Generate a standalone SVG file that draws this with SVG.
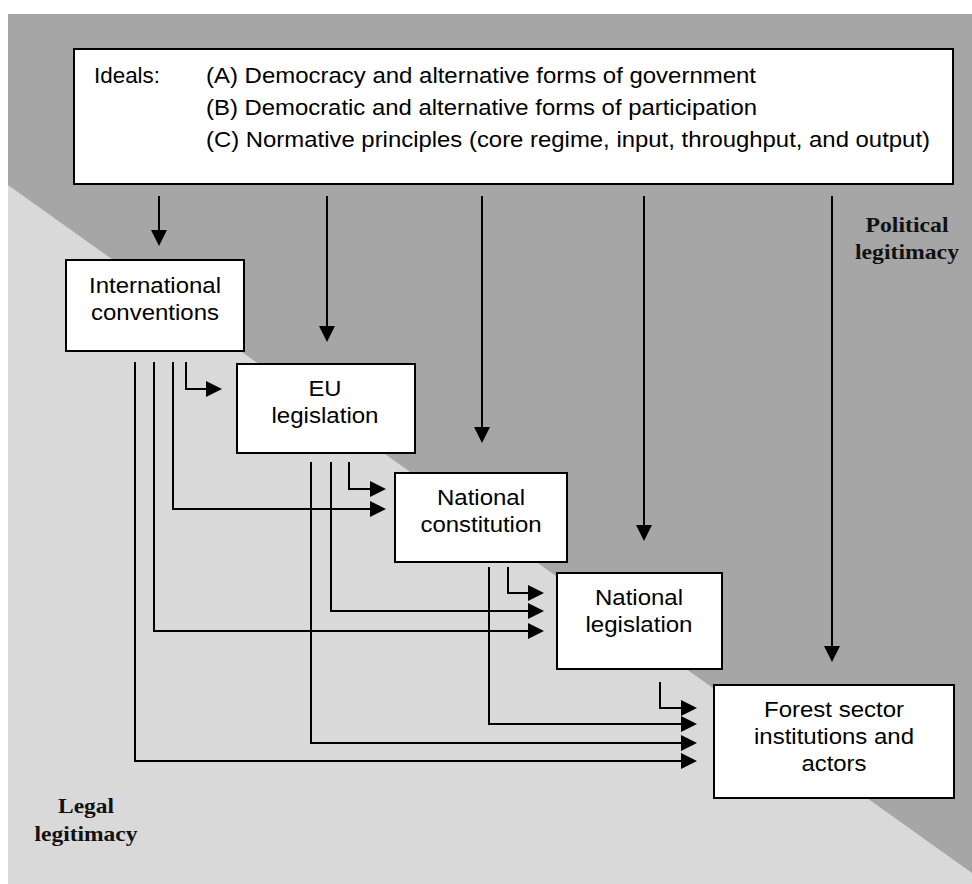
<svg xmlns="http://www.w3.org/2000/svg" width="972" height="884" viewBox="0 0 972 884">
<style>
.box{fill:#ffffff;stroke:#000000;stroke-width:2}
.t{font-family:"Liberation Sans",Arial,sans-serif;font-size:22px;fill:#000000}
.c{text-anchor:middle}
.s{font-family:"Liberation Serif","Times New Roman",serif;font-size:22px;font-weight:bold;fill:#111111;text-anchor:middle}
.ln{fill:none;stroke:#000000;stroke-width:2}
</style>
<defs>
<marker id="ah" markerUnits="userSpaceOnUse" markerWidth="16" markerHeight="16" refX="6" refY="8" orient="auto" viewBox="0 0 16 16">
<path d="M0,0 L16,8 L0,16 z" fill="#000000"/>
</marker>
</defs>
<g id="background">
<rect x="8" y="14" width="964" height="870" fill="#a6a6a6"/>
<polygon points="8,185 972,873 972,884 8,884" fill="#d9d9d9"/>
</g>
<g id="ideals">
<rect class="box" x="74" y="49" width="879" height="135"/>
<text class="t" x="94" y="83" textLength="66" lengthAdjust="spacingAndGlyphs">Ideals:</text>
<text class="t" x="206" y="83" textLength="550" lengthAdjust="spacingAndGlyphs">(A) Democracy and alternative forms of government</text>
<text class="t" x="206" y="115" textLength="551" lengthAdjust="spacingAndGlyphs">(B) Democratic and alternative forms of participation</text>
<text class="t" x="206" y="147" textLength="724" lengthAdjust="spacingAndGlyphs">(C) Normative principles (core regime, input, throughput, and output)</text>
</g>
<g id="international">
<rect class="box" x="66" y="260" width="178" height="91"/>
<text class="t c" x="155" y="293" textLength="132" lengthAdjust="spacingAndGlyphs">International</text>
<text class="t c" x="155" y="320" textLength="128" lengthAdjust="spacingAndGlyphs">conventions</text>
</g>
<g id="eu">
<rect class="box" x="237" y="364" width="178" height="89"/>
<text class="t c" x="325" y="396" textLength="33" lengthAdjust="spacingAndGlyphs">EU</text>
<text class="t c" x="325" y="423" textLength="107" lengthAdjust="spacingAndGlyphs">legislation</text>
</g>
<g id="constitution">
<rect class="box" x="395" y="473" width="172" height="89"/>
<text class="t c" x="481" y="505" textLength="88" lengthAdjust="spacingAndGlyphs">National</text>
<text class="t c" x="481" y="532" textLength="121" lengthAdjust="spacingAndGlyphs">constitution</text>
</g>
<g id="national-legislation">
<rect class="box" x="557" y="573" width="165" height="96"/>
<text class="t c" x="639" y="605" textLength="88" lengthAdjust="spacingAndGlyphs">National</text>
<text class="t c" x="639" y="632" textLength="107" lengthAdjust="spacingAndGlyphs">legislation</text>
</g>
<g id="forest">
<rect class="box" x="714" y="685" width="240" height="113"/>
<text class="t c" x="834" y="717" textLength="140" lengthAdjust="spacingAndGlyphs">Forest sector</text>
<text class="t c" x="834" y="744" textLength="160" lengthAdjust="spacingAndGlyphs">institutions and</text>
<text class="t c" x="834" y="771" textLength="65" lengthAdjust="spacingAndGlyphs">actors</text>
</g>
<g id="labels">
<text class="s" x="907" y="232" textLength="83" lengthAdjust="spacingAndGlyphs">Political</text>
<text class="s" x="907" y="259" textLength="104" lengthAdjust="spacingAndGlyphs">legitimacy</text>
<text class="s" x="86" y="813" textLength="56" lengthAdjust="spacingAndGlyphs">Legal</text>
<text class="s" x="86" y="841" textLength="103" lengthAdjust="spacingAndGlyphs">legitimacy</text>
</g>
<g id="connectors" class="ln" marker-end="url(#ah)">
<path d="M159,196 V236"/>
<path d="M327,196 V332"/>
<path d="M482,196 V433"/>
<path d="M644,196 V531"/>
<path d="M832,196 V652"/>
<path d="M186,362 V389 H212"/>
<path d="M173,362 V509 H376"/>
<path d="M154,362 V631 H534"/>
<path d="M135,362 V761 H687"/>
<path d="M349,462 V489 H376"/>
<path d="M331,462 V611 H534"/>
<path d="M311,462 V743 H687"/>
<path d="M508,567 V593 H534"/>
<path d="M489,567 V724 H687"/>
<path d="M660,682 V708 H687"/>
</g>
</svg>
